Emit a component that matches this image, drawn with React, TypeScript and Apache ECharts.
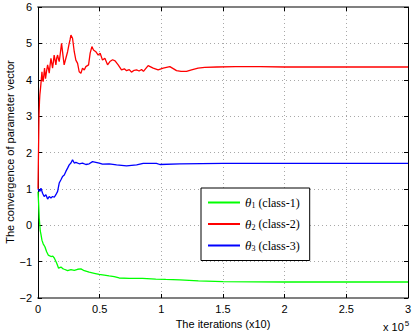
import React, { useEffect, useRef } from "react";
import * as echarts from "echarts";

const seriesNames = ["θ1 (class-1)", "θ2 (class-2)", "θ3 (class-3)"];
const seriesColors = ["#00ff00", "#ff0000", "#0000ff"];

const greenX = [0, 0.005, 0.01, 0.018, 0.024, 0.032, 0.042, 0.056, 0.07, 0.083, 0.095, 0.105, 0.12, 0.132, 0.151, 0.167, 0.186, 0.2, 0.213, 0.24, 0.267, 0.294, 0.321, 0.348, 0.375, 0.415, 0.456, 0.496, 0.537, 0.577, 0.618, 0.658, 0.739, 0.847, 0.955, 1.036, 1.15, 1.3, 1.5, 2.0, 2.5, 3.0];
const greenY = [0.92, 0.6, 0.2, -0.15, -0.25, -0.41, -0.51, -0.59, -0.73, -0.82, -0.84, -0.86, -0.85, -0.9, -1.04, -1.18, -1.15, -1.19, -1.21, -1.25, -1.22, -1.24, -1.21, -1.2, -1.25, -1.29, -1.32, -1.35, -1.37, -1.39, -1.41, -1.45, -1.46, -1.46, -1.48, -1.49, -1.5, -1.53, -1.55, -1.56, -1.56, -1.56];

const redX = [0, 0.004, 0.008, 0.012, 0.015, 0.02, 0.024, 0.028, 0.032, 0.037, 0.042, 0.048, 0.053, 0.061, 0.07, 0.078, 0.085, 0.091, 0.098, 0.105, 0.112, 0.118, 0.125, 0.131, 0.138, 0.145, 0.152, 0.159, 0.165, 0.172, 0.18, 0.191, 0.198, 0.204, 0.212, 0.219, 0.226, 0.24, 0.253, 0.26, 0.267, 0.28, 0.294, 0.307, 0.321, 0.334, 0.348, 0.361, 0.375, 0.388, 0.41, 0.423, 0.437, 0.45, 0.469, 0.488, 0.504, 0.523, 0.542, 0.564, 0.583, 0.605, 0.625, 0.65, 0.677, 0.7, 0.718, 0.74, 0.758, 0.78, 0.799, 0.82, 0.84, 0.855, 0.893, 0.934, 0.974, 1.015, 1.069, 1.1, 1.123, 1.16, 1.204, 1.245, 1.298, 1.352, 1.45, 1.6, 1.8, 2.0, 2.3, 2.6, 3.0];
const redY = [1.0, 2.0, 3.0, 3.4, 3.58, 3.75, 3.9, 4.05, 4.22, 4.0, 3.95, 4.15, 4.32, 4.03, 4.25, 4.41, 4.3, 4.18, 4.4, 4.59, 4.45, 4.32, 4.5, 4.68, 4.55, 4.41, 4.6, 4.68, 4.58, 4.5, 4.7, 5.0, 4.8, 4.63, 4.41, 4.5, 4.59, 4.77, 5.0, 5.1, 5.23, 5.14, 4.77, 4.54, 4.45, 4.22, 4.18, 4.32, 4.27, 4.36, 4.41, 4.73, 4.91, 4.82, 4.77, 4.68, 4.73, 4.54, 4.59, 4.41, 4.5, 4.55, 4.52, 4.41, 4.27, 4.3, 4.25, 4.28, 4.21, 4.26, 4.27, 4.24, 4.28, 4.23, 4.39, 4.32, 4.27, 4.32, 4.36, 4.3, 4.25, 4.23, 4.23, 4.27, 4.32, 4.34, 4.35, 4.36, 4.36, 4.35, 4.35, 4.35, 4.35];

const blueX = [0, 0.005, 0.016, 0.024, 0.037, 0.05, 0.064, 0.078, 0.091, 0.105, 0.118, 0.132, 0.145, 0.159, 0.172, 0.186, 0.199, 0.213, 0.226, 0.24, 0.253, 0.267, 0.28, 0.294, 0.307, 0.334, 0.361, 0.388, 0.415, 0.442, 0.469, 0.496, 0.523, 0.577, 0.637, 0.718, 0.8, 0.853, 0.96, 0.988, 1.15, 1.5, 2.0, 2.5, 3.0];
const blueY = [1.0, 0.97, 0.93, 1.02, 0.88, 0.79, 0.84, 0.72, 0.79, 0.75, 0.79, 0.77, 0.84, 0.93, 1.16, 1.25, 1.34, 1.38, 1.48, 1.57, 1.66, 1.71, 1.8, 1.71, 1.73, 1.69, 1.71, 1.67, 1.69, 1.75, 1.73, 1.71, 1.68, 1.69, 1.66, 1.63, 1.66, 1.7, 1.7, 1.67, 1.69, 1.7, 1.7, 1.7, 1.7];

const xTicks = [0, 0.5, 1, 1.5, 2, 2.5, 3];
const yTicks = [-2, -1, 0, 1, 2, 3, 4, 5, 6];
const xTitle = "The iterations (x10)";
const yTitle = "The convergence of parameter vector";

const legendLabels: Record<string, string> = {
  "θ1 (class-1)": "{i|θ}{s|1} {t|(class-1)}",
  "θ2 (class-2)": "{i|θ}{s|2} {t|(class-2)}",
  "θ3 (class-3)": "{i|θ}{s|3} {t|(class-3)}",
};

const zip = (xs: number[], ys: number[]) => xs.map((x, i) => [x, ys[i]]);

export default function App() {
  const ref = useRef<HTMLDivElement>(null);
  useEffect(() => {
    if (!ref.current) return;
    const chart = echarts.init(ref.current, null, { renderer: "svg" });
    const font = "Liberation Sans, Arial, sans-serif";
    const grid = { lineStyle: { color: "#a8a8a8", type: [1, 3] as any, width: 1 } };
    const seriesData = [zip(greenX, greenY), zip(redX, redY), zip(blueX, blueY)];
    const fmtY = (v: number) => {
      const t = yTicks.find((k) => Math.abs(k - v) < 1e-9) ?? v;
      return t < 0 ? "\u2212" + Math.abs(t) : String(t);
    };
    chart.setOption({
      animation: false,
      backgroundColor: "#ffffff",
      grid: { left: 38, right: 7, top: 7, bottom: 38, containLabel: false, outerBoundsMode: "none" },
      xAxis: [
        {
          type: "value",
          min: 0,
          max: 3,
          interval: 0.5,
          name: xTitle,
          nameLocation: "middle",
          nameGap: 17,
          nameTextStyle: { fontFamily: font, fontSize: 11, color: "#000" },
          axisLine: { show: true, onZero: false, lineStyle: { color: "#808080", width: 2 } },
          axisTick: { show: true, inside: true, length: 4, lineStyle: { color: "#000" } },
          axisLabel: {
            fontFamily: font,
            fontSize: 11,
            color: "#000",
            margin: 5,
            formatter: (v: number) => String(xTicks.find((t) => Math.abs(t - v) < 1e-9) ?? v),
          },
          splitLine: { show: true, ...grid },
        },
        {
          type: "value",
          position: "top",
          min: 0,
          max: 3,
          interval: 0.5,
          axisLine: { show: true, onZero: false, lineStyle: { color: "#808080", width: 2 } },
          axisTick: { show: true, inside: true, length: 4, lineStyle: { color: "#000" } },
          axisLabel: { show: false },
          splitLine: { show: false },
        },
      ],
      yAxis: [
        {
          type: "value",
          min: -2,
          max: 6,
          interval: 1,
          axisLine: { show: true, onZero: false, lineStyle: { color: "#000", width: 1 } },
          axisTick: { show: true, inside: true, length: 4, lineStyle: { color: "#000" } },
          axisLabel: { fontFamily: font, fontSize: 11, color: "#000", margin: 6, formatter: fmtY },
          splitLine: { show: true, ...grid },
        },
        {
          type: "value",
          position: "right",
          min: -2,
          max: 6,
          interval: 1,
          axisLine: { show: true, onZero: false, lineStyle: { color: "#000", width: 1 } },
          axisTick: { show: true, inside: true, length: 4, lineStyle: { color: "#000" } },
          axisLabel: { show: false },
          splitLine: { show: false },
        },
      ],
      legend: {
        orient: "vertical",
        left: 201,
        top: 188,
        padding: [8, 10, 8, 7],
        itemGap: 8,
        itemWidth: 32,
        itemHeight: 2,
        icon: "rect",
        backgroundColor: "#fff",
        borderColor: "#000",
        borderWidth: 1,
        borderRadius: 0,
        data: seriesNames,
        formatter: (name: string) => legendLabels[name] ?? name,
        textStyle: {
          color: "#000",
          fontFamily: "Liberation Serif, serif",
          fontSize: 12,
          rich: {
            i: { fontFamily: "Liberation Serif, serif", fontStyle: "italic", fontSize: 13, color: "#000" },
            s: { fontFamily: "Liberation Serif, serif", fontSize: 8, color: "#000", verticalAlign: "bottom", padding: [6, 0, 0, 0] },
            t: { fontFamily: "Liberation Serif, serif", fontSize: 12, color: "#000" },
          },
        },
      },
      graphic: [
        {
          type: "text",
          x: 10,
          y: 152,
          rotation: Math.PI / 2,
          style: {
            text: yTitle,
            fontFamily: font,
            fontSize: 11,
            fill: "#000",
            align: "center",
            verticalAlign: "middle",
          },
        },
        {
          type: "text",
          left: 383,
          top: 319,
          style: {
            text: "{a|x 10}{b|5}",
            rich: {
              a: { fontFamily: font, fontSize: 11, fill: "#000" },
              b: { fontFamily: font, fontSize: 8, fill: "#000", verticalAlign: "top", padding: [0, 0, 8, 1] },
            },
          },
        },
      ],
      series: seriesNames.map((name, i) => ({
        name,
        type: "line",
        data: seriesData[i],
        showSymbol: false,
        symbol: "none",
        lineStyle: { color: seriesColors[i], width: 1.3 },
        itemStyle: { color: seriesColors[i] },
        z: 2 + i,
      })),
    });
    return () => chart.dispose();
  }, []);
  return <div ref={ref} style={{ position: "fixed", left: 0, top: 0, width: 415, height: 336 }} />;
}
